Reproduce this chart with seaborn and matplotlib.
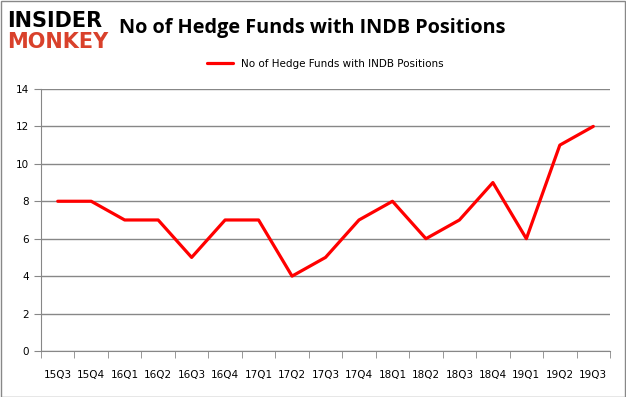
import pandas as pd
import numpy as np
import matplotlib
matplotlib.use("Agg")
import matplotlib.pyplot as plt
import seaborn as sns
from matplotlib.ticker import FixedLocator

quarters = ["15Q3", "15Q4", "16Q1", "16Q2", "16Q3", "16Q4", "17Q1", "17Q2", "17Q3",
            "17Q4", "18Q1", "18Q2", "18Q3", "18Q4", "19Q1", "19Q2", "19Q3"]
funds = [8, 8, 7, 7, 5, 7, 7, 4, 5, 7, 8, 6, 7, 9, 6, 11, 12]
series_name = "No of Hedge Funds with INDB Positions"

df = pd.DataFrame({"quarter": quarters, "funds": funds})

sns.set_style("white")
plt.rcParams["font.family"] = ["DejaVu Sans"]
plt.rcParams["text.color"] = "black"
plt.rcParams["xtick.color"] = "black"
plt.rcParams["ytick.color"] = "black"

fig = plt.figure(figsize=(6.26, 3.97), dpi=100)
ax = fig.add_axes([0.0655, 0.1159, 0.909, 0.66])

sns.lineplot(data=df, x="quarter", y="funds", ax=ax, color="#ff0000",
             linewidth=2.3, label=series_name, sort=False)

ax.set_xlim(-0.5, len(quarters) - 0.5)
ax.set_ylim(0, 14)
ax.set_yticks(range(0, 15, 2))
ax.grid(axis="y", color="#878787", linewidth=1)
ax.set_axisbelow(True)
for s in ["top", "right"]:
    ax.spines[s].set_visible(False)
ax.spines["left"].set_color("#878787")
ax.spines["bottom"].set_color("#878787")
ax.set_xlabel("")
ax.set_ylabel("")
ax.xaxis.set_minor_locator(FixedLocator(np.arange(-0.5, len(quarters), 1.0)))
ax.tick_params(axis="x", which="major", length=0, labelsize=7.5, pad=14, labelcolor="black")
ax.tick_params(axis="x", which="minor", length=5, color="#878787", direction="out", bottom=True)
ax.tick_params(axis="y", length=5, color="#878787", direction="out", labelsize=7.5,
               left=True, labelcolor="black")

leg = ax.legend(loc="lower center", bbox_to_anchor=(0.5, 1.04), frameon=False,
                fontsize=7.5, handlelength=2.5, labelcolor="black")

fig.text(0.19, 0.93, "No of Hedge Funds with INDB Positions", fontsize=14.3,
         fontweight="bold", va="center", ha="left", color="black",
         family=["Open Sans", "DejaVu Sans"])
fig.text(0.012, 0.948, "INSIDER", fontsize=15, fontweight="heavy", color="black",
         va="center", ha="left", family=["DejaVu Sans"])
fig.text(0.012, 0.895, "MONKEY", fontsize=15, fontweight="heavy", color="#d9412b",
         va="center", ha="left", family=["DejaVu Sans"])

fig.patches.append(plt.Rectangle((0.001, 0.001), 0.997, 0.997, transform=fig.transFigure,
                                 fill=False, edgecolor="#888888", linewidth=1))

fig.savefig("out.png", dpi=100)
